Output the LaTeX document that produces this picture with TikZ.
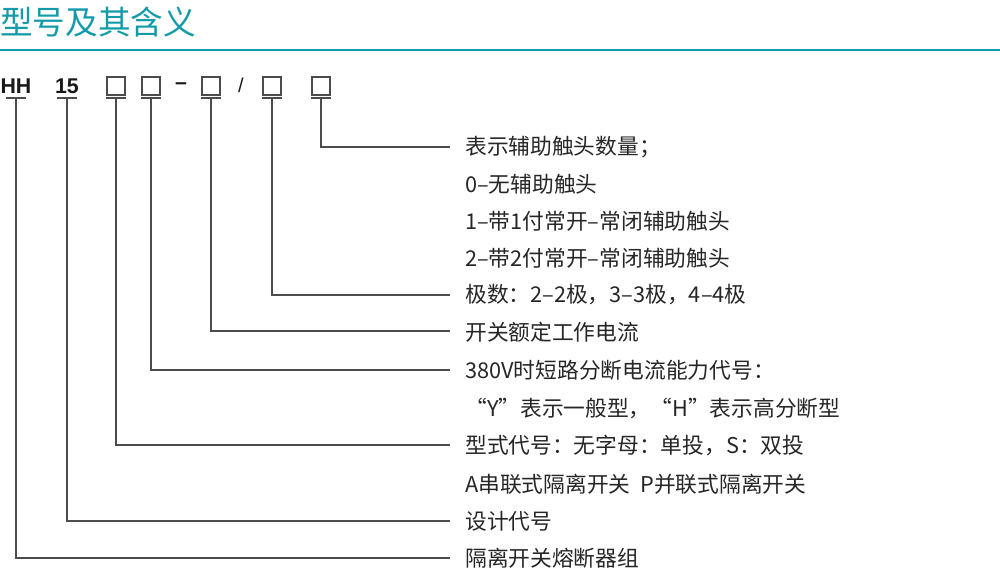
\documentclass[tikz,border=0pt]{standalone}
\usepackage{fontspec}
\setmainfont{Noto Sans CJK SC}
\newfontfamily\codefont{Liberation Sans}
\begin{document}
\begin{tikzpicture}[x=0.75pt,y=-0.75pt,
  ln/.style={draw=black!70,line width=0.8pt},
  bx/.style={draw=black!70,line width=0.8pt,minimum width=13.5pt,minimum height=13.5pt,inner sep=0pt},
  tx/.style={anchor=west,font=\fontsize{16.3}{16.3}\selectfont,text=black!85,inner sep=0pt},
  cd/.style={font=\codefont\bfseries\fontsize{16}{16}\selectfont,text=black!90,inner sep=0pt}]
\definecolor{teal1}{RGB}{20,155,170}
\useasboundingbox (0,0) rectangle (1000,580);
\node[anchor=west,text=teal1,font=\fontsize{24.5}{24.5}\selectfont,inner sep=0pt] (title) at (0,22) {型号及其含义};
\draw[teal1,line width=0.8pt] (0,50) -- (1000,50);
\node[cd] (hh) at (16,86) {HH};
\node[cd] (n15) at (67,86) {15};
\node[bx] (b1) at (116,86) {};
\node[bx] (b2) at (151,86) {};
\node[cd] (d1) at (181,86) {–};
\node[bx] (b3) at (211,86) {};
\node[cd,font=\codefont\fontsize{15}{15}\selectfont] (s1) at (241,85) {/};
\node[bx] (b4) at (272,86) {};
\node[bx] (b5) at (321,86) {};
\node[tx] (r1) at (465,147) {表示辅助触头数量；};
\node[tx] (r2) at (465,184) {0–无辅助触头};
\node[tx] (r3) at (465,221) {1–带1付常开–常闭辅助触头};
\node[tx] (r4) at (465,258) {2–带2付常开–常闭辅助触头};
\node[tx] (r5) at (465,295) {极数：2–2极，3–3极，4–4极};
\node[tx] (r6) at (465,332) {开关额定工作电流};
\node[tx] (r7) at (465,370) {380V时短路分断电流能力代号：};
\node[tx] (r8) at (465,408) {“Y”表示一般型，“H”表示高分断型};
\node[tx] (r9) at (465,445) {型式代号：无字母：单投，S：双投};
\node[tx] (r10) at (465,484) {A串联式隔离开关\ \ P并联式隔离开关};
\node[tx] (r11) at (465,521) {设计代号};
\node[tx] (r12) at (465,558) {隔离开关熔断器组};
\foreach \x/\y in {321/147,272/295,211/331,151/370,116/445,67/521,16/558}{
  \draw[ln] (\x-10,98) -- (\x+10,98);
  \draw[ln] (\x,98) -- (\x,\y) -- (450,\y);
}
\end{tikzpicture}
\end{document}
